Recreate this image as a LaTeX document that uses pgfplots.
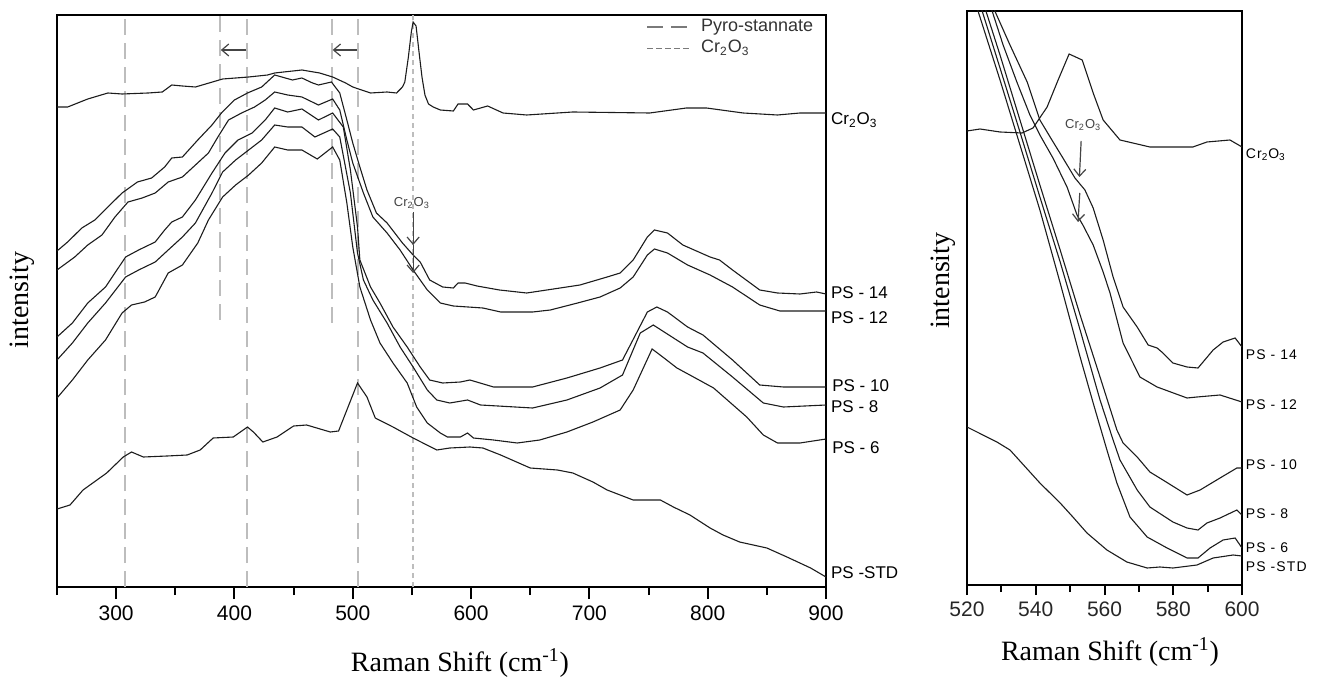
\documentclass[border=0pt]{standalone}
\usepackage{fontspec}
\setmainfont{Liberation Sans}
\newfontfamily\timesfont{Liberation Serif}
\usepackage{pgfplots}
\pgfplotsset{compat=1.18}
\usepackage{pgfplotstable}
\usetikzlibrary{arrows.meta}
\definecolor{dashgray}{HTML}{BDBDBD}
\definecolor{legray}{HTML}{7A7A7A}
\definecolor{curvecol}{HTML}{1C1C1C}
\definecolor{anncol}{HTML}{444444}

% ---------- left panel data ----------
\pgfplotstableread{
x y
250 480
259 480
276 488
293 494
305 493
327 494
339 495
347 502
356 501
367 500
390 508
412 510
428 512
434 514
457 517
472 514
483 510
494 504
500 500
515 494
529 495
537 494
542 500
544 505
547 530
549.5 555
551 565
553.5 561
556 535
558.5 510
561 492
564 483
568 480
574 477
585 476
589 483
597 483
602 477
614 481
627 474
647 472
686 475
751 474
782 479
799 479
830 474
859 472
878 474
900 474
}\LCr

\pgfplotstableread{
x y
250 336
259 345
271 359
282 367
293 380
305 394
318 405
330 409
341 420
347 429
356 430
369 447
381 462
389 474
400 487
411 494
423 500
434 512
443 509
449 507
457 509
466 504
471 502
482 505
489 494
495 467
500 444
506 420
512 397
520 374
529 364
542 344
551 332
557 325
565 307
576 300
585 299
589 304
595 304
605 301
624 297
647 294
664 297
692 302
715 310
726 314
737 327
749 350
755 357
766 354
779 342
802 330
810 327
821 317
844 297
859 294
878 293
892 295
900 293
}\LPSxiv

\pgfplotstableread{
x y
250 317
265 330
276 342
288 352
299 370
310 385
322 389
333 394
344 405
356 410
367 422
378 434
386 450
395 467
406 474
417 480
426 487
434 495
445 492
457 490
471 482
483 488
489 477
495 447
500 424
509 394
517 370
529 354
540 337
551 317
563 297
574 284
585 281
610 279
625 275
652 275
667 277
690 284
709 290
726 299
737 310
749 332
755 338
766 334
783 322
802 312
821 300
844 282
861 276
900 276
}\LPSxii

\pgfplotstableread{
x y
250 250
263 264
276 284
291 300
308 330
319 337
333 345
341 357
347 365
356 370
367 387
381 414
392 434
403 447
415 454
426 467
434 479
445 475
457 478
471 467
483 474
492 460
498 417
504 360
506 327
515 300
523 284
534 260
546 240
557 220
565 207
576 204
591 205
599 207
619 200
652 200
681 209
709 219
728 227
749 275
757 280
766 275
783 260
796 252
821 227
844 202
864 200
900 200
}\LPSx

\pgfplotstableread{
x y
250 227
263 244
276 264
291 284
308 310
319 317
333 325
344 337
356 350
367 364
381 394
390 415
401 427
412 437
423 447
434 462
445 460
457 460
468 450
483 458
489 450
498 394
504 334
509 307
517 287
529 264
540 240
551 220
563 197
571 187
582 184
597 187
608 182
652 179
681 187
709 199
728 212
743 254
754 262
783 240
796 234
821 210
847 184
864 180
900 182
}\LPSviii

\pgfplotstableread{
x y
250 189
263 207
276 227
291 247
305 274
313 282
324 285
333 290
344 314
356 322
369 344
378 367
390 390
401 402
412 412
423 424
434 440
445 437
457 437
470 428
483 440
489 427
495 384
500 340
506 300
515 267
523 244
534 224
546 204
554 180
563 164
574 154
580 150
591 150
597 154
602 149
619 147
639 144
658 147
681 155
703 165
726 177
737 197
753 238
762 230
774 219
788 210
805 199
833 170
847 152
859 144
878 144
900 148
}\LPSvi

\pgfplotstableread{
x y
250 78
261 82
272 97
292 114
306 130
313 135
323 130
343 131
360 132
371 137
382 149
399 150
411 160
416 155
424 145
436 150
450 161
461 162
481 155
488 156
495 177
504 204
512 190
519 169
534 160
551 149
571 137
582 139
599 140
610 139
625 132
650 119
673 117
686 114
703 105
715 97
737 87
760 87
771 80
785 72
802 59
813 52
827 45
850 39
867 30
887 19
900 10
}\LSTD

% ---------- right panel data ----------
\pgfplotstableread{
x y
520 454
523.8 456
529.6 453
536 452
539.2 457
543.3 478
546.5 505
549.7 531
553.5 525
556.7 492
559.6 465
564.5 445
573.2 438
585.7 438
589.8 443
596.5 445
600 438
}\RCr

\pgfplotstableread{
x y
527 585
528.1 574
532.5 540
537.5 503
541.2 465
544.7 445
547.9 427
551.4 407
554.3 395
556.7 377
559.6 345
562.5 308
565.4 278
569.5 258
572.7 240
575.3 237
577 232
579.9 222
584 218
587.2 217
591.6 235
594.5 243
598 247
600 238
}\RPSxiv

\pgfplotstableread{
x y
526.4 585
527.3 574
530.5 540
534.5 503
538.3 470
541.2 450
545 427
549.1 398
552 370
553.7 360
556.7 340
559.6 313
561.6 292
565.4 242
570.3 208
575.3 198
584 187
586.9 188
593.6 190
600 183
}\RPSxii

\pgfplotstableread{
x y
524.5 590
525.5 574
529.6 530
535.4 465
541.2 400
547.1 335
552.9 270
558.7 208
563.6 155
565.4 142
569.5 128
573.2 113
577 105
584 90
587.8 95
593.6 107
598.5 117
600 117
}\RPSx

\pgfplotstableread{
x y
523.4 590
524.4 574
529.6 517
535.4 453
541.2 388
547.1 323
552.9 255
558.7 185
562.5 145
564.5 125
569.5 95
573.2 78
579.9 63
584 57
587.2 55
589.8 62
593.6 67
598.5 75
600 70
}\RPSviii

\pgfplotstableread{
x y
522.3 590
523.2 574
529.6 505
535.4 440
541.2 375
547.1 302
552.9 228
556.7 182
560.7 135
563.6 102
567.4 68
572.4 48
578.2 37
584 27
587.2 27
590.7 37
594.5 45
598 47
600 37
}\RPSvi

\pgfplotstableread{
x y
520 158
528.7 143
532.5 135
541.2 102
547.1 82
550.8 68
554.9 52
560.7 35
566.5 23
572.4 17
576.1 18
579.9 17
586.9 20
591.6 27
597.4 30
600 29
}\RSTD

\tikzset{
  lab/.style={font=\fontsize{8.5}{9}\selectfont, anchor=west, inner sep=0pt, text=black},
  rlab/.style={font=\fontsize{7}{8}\selectfont\addfontfeature{LetterSpace=8}, anchor=west, inner sep=0pt, text=black},
  arr/.style={anncol, line width=0.6pt, -{Straight Barb[length=3.5pt,width=6pt]}},
}
\pgfplotsset{
  curve/.style={curvecol, line width=0.55pt, forget plot},
  pyro/.style={dashgray, line width=1pt, dash pattern=on 8pt off 4pt},
  crl/.style={dashgray, line width=0.8pt, dash pattern=on 2.7pt off 1.8pt},
  common/.style={
    scale only axis,
    axis line style={line width=1pt},
    ytick=\empty,
    xtick pos=bottom,
    tick align=outside,
    major tick length=6pt,
    minor tick length=4pt,
    tick style={line width=1pt, black},
    minor tick style={line width=1pt, black},
    xticklabel style={font=\fontsize{10.5}{12}\selectfont},
    /pgf/number format/assume math mode=true,
    /pgf/number format/1000 sep={},
    clip mode=individual,
    xlabel style={font=\timesfont\fontsize{14}{16}\selectfont, anchor=center},
    ylabel style={font=\timesfont\fontsize{14}{16}\selectfont, anchor=center},
  },
}

\begin{document}
\begin{tikzpicture}
\useasboundingbox (0,0) rectangle (665.5pt,342.5pt);

% ================= LEFT PANEL =================
\begin{axis}[common,
  at={(28.5pt,49pt)}, anchor=south west,
  width=384.5pt, height=286pt,
  xmin=250, xmax=900, ymin=0, ymax=572,
  xtick={300,400,...,900},
  minor xtick={250,350,...,850},
  xlabel={Raman Shift (cm\textsuperscript{-1})},
  xlabel style={at={(axis description cs:0.524,-0.133)}},
  ylabel={intensity},
  ylabel style={at={(axis description cs:-0.0455,0.502)}},
  legend style={at={(axis cs:748,570)}, anchor=north west, draw=none, fill=none,
    inner sep=0pt, outer sep=0pt, font=\fontsize{9}{10}\selectfont, text=black!80,
    nodes={inner sep=0.5pt, text height=7pt, text depth=2.5pt},
    row sep=0pt, /tikz/every odd column/.append style={column sep=4pt}},
  legend cell align=left,
  legend image code/.code={\draw[#1, draw=legray] (0pt,0pt) -- (22pt,0pt);},
]
% reference lines
\addplot[pyro] coordinates {(307.5,0) (307.5,572)};
\addlegendentry{Pyro-stannate}
\addplot[pyro, forget plot] coordinates {(410.6,0) (410.6,572)};
\addplot[pyro, forget plot] coordinates {(504.4,0) (504.4,572)};
\addplot[pyro, forget plot] coordinates {(387.8,267) (387.8,572)};
\addplot[pyro, forget plot] coordinates {(482.5,264) (482.5,572)};
\addplot[crl] coordinates {(551,0) (551,572)};
\addlegendentry{Cr\textsubscript{2}O\textsubscript{3}}

% spectra
\addplot[curve] table {\LCr};
\addplot[curve] table {\LPSxiv};
\addplot[curve] table {\LPSxii};
\addplot[curve] table {\LPSx};
\addplot[curve] table {\LPSviii};
\addplot[curve] table {\LPSvi};
\addplot[curve] table {\LSTD};

% shift arrows
\draw[arr] (axis cs:410,537) -- (axis cs:388.5,537);
\draw[arr] (axis cs:503.5,537) -- (axis cs:483,537);
% Cr2O3 annotation
\node[font=\fontsize{6.5}{7}\selectfont, text=anncol, inner sep=0pt] at (axis cs:550,384) {Cr\textsubscript{2}O\textsubscript{3}};
\draw[arr] (axis cs:551,375) -- (axis cs:551,342);
\draw[arr] (axis cs:551,342) -- (axis cs:551,314);

% curve labels
\node[lab] at (axis cs:904,467) {Cr\textsubscript{2}O\textsubscript{3}};
\node[lab] at (axis cs:904,294) {PS - 14};
\node[lab] at (axis cs:904,269) {PS - 12};
\node[lab] at (axis cs:905,201) {PS - 10};
\node[lab] at (axis cs:904,180) {PS - 8};
\node[lab] at (axis cs:905,139) {PS - 6};
\node[lab] at (axis cs:904,14) {PS -STD};
\end{axis}

% ================= RIGHT PANEL =================
\begin{axis}[common,
  at={(483.5pt,50pt)}, anchor=south west,
  width=137.5pt, height=287pt,
  xmin=520, xmax=600, ymin=0, ymax=574,
  xtick={520,540,...,600},
  minor xtick={530,550,570,590},
  major tick length=5pt, minor tick length=3.5pt,
  xticklabel style={text=black!85},
  xlabel={Raman Shift (cm\textsuperscript{-1})},
  xlabel style={at={(axis description cs:0.52,-0.117)}},
  ylabel={intensity},
  ylabel style={at={(axis description cs:-0.087,0.53)}},
]
\addplot[curve] table {\RCr};
\addplot[curve] table {\RPSxiv};
\addplot[curve] table {\RPSxii};
\addplot[curve] table {\RPSx};
\addplot[curve] table {\RPSviii};
\addplot[curve] table {\RPSvi};
\addplot[curve] table {\RSTD};

\node[font=\fontsize{6.5}{7}\selectfont, text=anncol, inner sep=0pt] at (axis cs:553.8,460) {Cr\textsubscript{2}O\textsubscript{3}};
\draw[arr] (axis cs:553.2,444) -- (axis cs:552.7,408);
\draw[arr] (axis cs:552.8,392) -- (axis cs:552.3,363);

\node[rlab] at (axis cs:601,430) {Cr\textsubscript{2}O\textsubscript{3}};
\node[rlab] at (axis cs:601,230) {PS - 14};
\node[rlab] at (axis cs:601,180) {PS - 12};
\node[rlab] at (axis cs:601,120) {PS - 10};
\node[rlab] at (axis cs:601,71) {PS - 8};
\node[rlab] at (axis cs:601,37) {PS - 6};
\node[rlab] at (axis cs:601,18) {PS -STD};
\end{axis}
\end{tikzpicture}
\end{document}
